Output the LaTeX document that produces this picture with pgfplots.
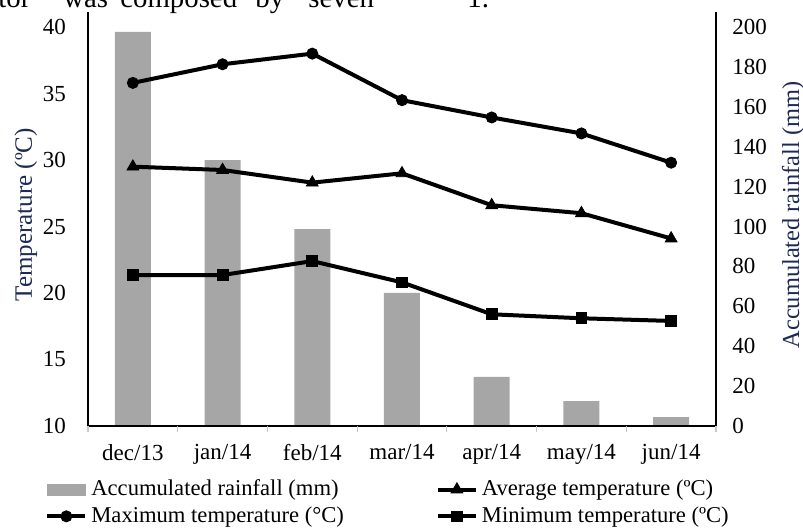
\documentclass[border=0pt]{standalone}
\usepackage{pgfplots}
\pgfplotsset{compat=1.18}
\usepackage{fontspec}
\setmainfont{Liberation Serif}

\definecolor{barg}{RGB}{166,166,166}
\definecolor{labc}{RGB}{30,42,85}
\definecolor{tickg}{RGB}{200,200,200}

\pgfplotstableread{
x rain tmax tavg tmin
0 197.5 35.8 29.5  21.35
1 133.3 37.2 29.25 21.35
2 98.7  38.0 28.3  22.4
3 66.7  34.5 29.0  20.8
4 24.6  33.2 26.6  18.4
5 12.5  32.0 26.0  18.1
6 4.5   29.8 24.1  17.9
}\climate

\begin{document}
\begin{tikzpicture}
\useasboundingbox (0pt,0pt) rectangle (401.5pt,265.5pt);

% cut-off line of the page text above the chart
\begin{scope}[every node/.style={anchor=base west, inner sep=0pt, font=\fontsize{14.4}{17}\selectfont}]
\node at (-1pt,261.5pt) {tor};
\node at (31.5pt,261.5pt) {was};
\node at (60pt,261.5pt) {composed};
\node at (127.5pt,261.5pt) {by};
\node at (154pt,261.5pt) {seven};
\node at (233.5pt,261.5pt) {1.};
\end{scope}

\pgfplotsset{
  every axis/.append style={
    scale only axis, width=314pt, height=207pt,
    at={(44pt,52.5pt)}, anchor=south west,
    xmin=-0.5, xmax=6.5,
    tick label style={font=\fontsize{11.5}{13}\selectfont},
    axis line style={-, line width=0.6pt},
    /pgf/number format/assume math mode=true,
  },
}

% rainfall, right axis
\begin{axis}[
  axis x line=none, axis y line*=right,
  ymin=0, ymax=207.5, ytick={0,20,...,200},
  major tick length=0pt,
  yticklabel style={xshift=4.7pt},
  every axis y label/.style={at={(axis description cs:1.123,0.51)}, rotate=90, anchor=center},
  ylabel={Accumulated rainfall (mm)},
  ylabel style={color=labc, font=\fontsize{12.2}{14}\selectfont},
]
\addplot[ybar, bar width=18pt, fill=barg, draw=none] table[x=x, y=rain] {\climate};
\end{axis}

% temperatures, left axis
\begin{axis}[
  axis y line*=left, axis x line*=bottom,
  ymin=10, ymax=41.13, ytick={10,15,...,40},
  xtick={0,...,6},
  xticklabels={dec/13,jan/14,feb/14,mar/14,apr/14,may/14,jun/14},
  major tick length=0pt,
  extra x ticks={-0.5,0.5,1.5,2.5,3.5,4.5,5.5,6.5},
  extra x tick labels={},
  extra x tick style={major tick length=3pt, tick align=outside, tick style={tickg, line width=0.6pt}},
  xticklabel style={yshift=-5.5pt},
  yticklabel style={xshift=-7.5pt},
  every axis y label/.style={at={(axis description cs:-0.099,0.51)}, rotate=90, anchor=center},
  ylabel={Temperature (ºC)},
  ylabel style={color=labc, font=\fontsize{12.5}{14}\selectfont},
  legend columns=2,
  legend cell align=left,
  legend style={at={(axis description cs:-0.0685,-0.12)}, anchor=north west,
    draw=none, fill=none, inner sep=0pt, row sep=0pt,
    font=\fontsize{11.3}{13}\selectfont,
    /tikz/every even column/.append style={column sep=44pt}},
  legend image code/.code={\draw[mark repeat=2, mark phase=2, #1] plot coordinates {(0pt,0pt) (9.5pt,0pt) (19pt,0pt)};},
]
\addlegendimage{legend image code/.code={\fill[barg] (0pt,-2.75pt) rectangle (19pt,2.75pt);}}
\addlegendentry{Accumulated rainfall (mm)}
\addplot[black, line width=2pt, mark=triangle*, mark size=3.4pt, mark options={solid, line width=0.4pt}] table[x=x, y=tavg] {\climate};
\addlegendentry{Average temperature (ºC)}
\addplot[black, line width=2pt, mark=*, mark size=2.8pt, mark options={solid, line width=0.4pt}] table[x=x, y=tmax] {\climate};
\addlegendentry{Maximum temperature (°C)}
\addplot[black, line width=2pt, mark=square*, mark size=2.7pt, mark options={solid, line width=0.4pt}] table[x=x, y=tmin] {\climate};
\addlegendentry{Minimum temperature (ºC)}
\end{axis}
\end{tikzpicture}
\end{document}
